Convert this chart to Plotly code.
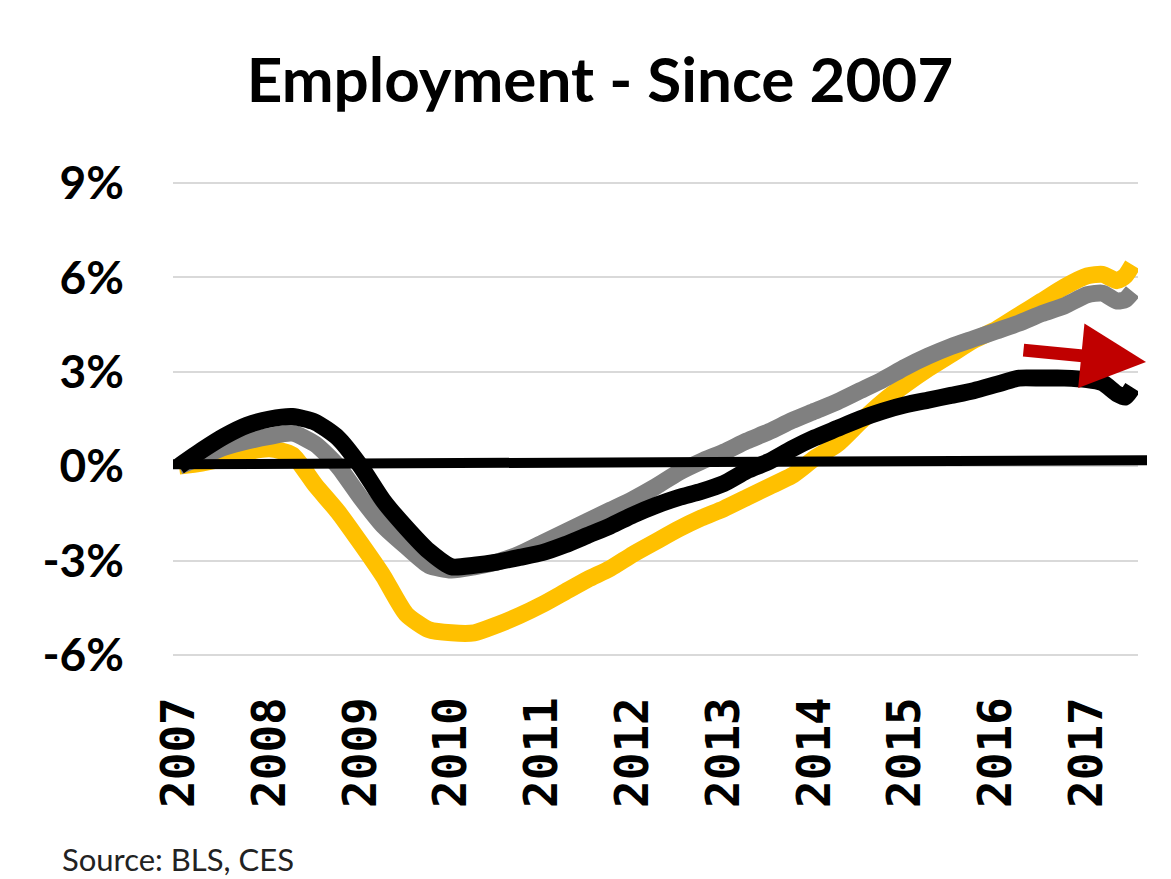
import plotly.graph_objects as go

# ---- data ----
years = [2007.0, 2007.25, 2007.5, 2007.75, 2008.0, 2008.25, 2008.5, 2008.75,
         2009.0, 2009.25, 2009.5, 2009.75, 2010.0, 2010.25, 2010.5, 2010.75,
         2011.0, 2011.25, 2011.5, 2011.75, 2012.0, 2012.25, 2012.5, 2012.75,
         2013.0, 2013.25, 2013.5, 2013.75, 2014.0, 2014.25, 2014.5, 2014.75,
         2015.0, 2015.25, 2015.5, 2015.75, 2016.0, 2016.25, 2016.5, 2016.75,
         2017.0, 2017.17, 2017.33, 2017.42, 2017.5]

yellow = [0.0, 0.1, 0.25, 0.45, 0.55, 0.35, -0.6, -1.45,
          -2.45, -3.5, -4.7, -5.2, -5.3, -5.3, -5.05, -4.75,
          -4.4, -4.0, -3.6, -3.25, -2.8, -2.4, -2.0, -1.65,
          -1.35, -1.0, -0.65, -0.3, 0.25, 0.7, 1.4, 2.05,
          2.6, 3.1, 3.55, 4.0, 4.35, 4.8, 5.25, 5.7,
          6.05, 6.1, 5.9, 6.05, 6.4]

gray = [0.0, 0.3, 0.6, 0.8, 0.95, 1.05, 0.7, 0.0,
        -1.0, -1.9, -2.55, -3.15, -3.3, -3.2, -3.05, -2.8,
        -2.45, -2.1, -1.75, -1.4, -1.05, -0.65, -0.2, 0.15,
        0.45, 0.8, 1.1, 1.45, 1.75, 2.05, 2.4, 2.75,
        3.15, 3.5, 3.8, 4.05, 4.3, 4.55, 4.85, 5.1,
        5.45, 5.5, 5.25, 5.3, 5.55]

black = [0.0, 0.5, 0.95, 1.3, 1.5, 1.58, 1.4, 0.9,
         0.0, -1.1, -1.95, -2.7, -3.2, -3.15, -3.05, -2.9,
         -2.75, -2.5, -2.2, -1.9, -1.55, -1.25, -1.0, -0.8,
         -0.55, -0.15, 0.15, 0.55, 0.9, 1.2, 1.5, 1.75,
         1.95, 2.1, 2.25, 2.4, 2.6, 2.8, 2.8, 2.8,
         2.75, 2.65, 2.3, 2.2, 2.5]

tick_years = [2007, 2008, 2009, 2010, 2011, 2012, 2013, 2014, 2015, 2016, 2017]
tick_year_labels = [str(y) for y in tick_years]
y_ticks = [-6, -3, 0, 3, 6, 9]
y_tick_labels = ["-6%", "-3%", "0%", "3%", "6%", "9%"]
baseline_values = [0.06, 0.19]   # hand-drawn reference line near 0%

title_text = "Employment - Since 2007"
source_text = "Source: BLS, CES"

# ---- layout geometry (page has an 8px body margin) ----
OFF = 8
W, H = 1171 - OFF, 879 - OFF
L, R, T, B = 165, 33, 172, 221
PW, PH = W - L - R, H - T - B


def px_x(p):
    return (p - OFF - L) / PW


def px_y(p):
    return (H - B - (p - OFF)) / PH


fig = go.Figure()
for vals, col in [(yellow, "#FFC000"), (gray, "#808080"), (black, "#000000")]:
    fig.add_trace(go.Scatter(
        x=years, y=vals, mode="lines",
        line=dict(color=col, width=17, shape="spline", smoothing=0.6),
        showlegend=False, hoverinfo="skip"))

shapes = [
    # outer light frame (top/left edge of the original screenshot)
    dict(type="rect", xref="paper", yref="paper", layer="below",
         x0=px_x(7), x1=px_x(1300), y0=px_y(1000), y1=px_y(5),
         fillcolor="white", line=dict(color="#D4D4D4", width=2)),
    # black baseline near zero
    dict(type="line", xref="paper", yref="y",
         x0=0.0, x1=px_x(1147), y0=baseline_values[0], y1=baseline_values[1],
         line=dict(color="black", width=10)),
]

annotations = [
    dict(text=source_text, xref="paper", yref="paper",
         x=px_x(60), y=px_y(859), xanchor="left", yanchor="middle",
         showarrow=False, font=dict(family="Lato", size=31, color="#222222")),
    dict(text="", xref="paper", yref="paper",
         x=px_x(1146), y=px_y(362), ax=-124, ay=-12,
         showarrow=True, arrowhead=2, arrowsize=1.0, arrowwidth=13,
         arrowcolor="#C00000", standoff=0),
]

fig.update_layout(
    width=W, height=H,
    margin=dict(l=L, r=R, t=T, b=B, pad=0),
    paper_bgcolor="#EEEEEE",
    plot_bgcolor="white",
    title=dict(text=title_text, xref="container", yref="container",
               x=(600 - OFF) / W, y=1 - (80 - OFF) / H,
               xanchor="center", yanchor="middle",
               font=dict(family="Lato", size=62, color="black", weight="bold")),
    shapes=shapes,
    annotations=annotations,
    showlegend=False,
)

fig.update_xaxes(
    range=[2006.934, 2017.56],
    tickmode="array", tickvals=tick_years, ticktext=tick_year_labels,
    tickangle=-90, showgrid=False, zeroline=False, showline=False, ticks="",
    ticklabelstandoff=29,
    tickfont=dict(family="DejaVu Sans Mono", size=46, color="black", weight="bold"),
)
fig.update_yaxes(
    range=[-6.1, 9.1],
    tickmode="array", tickvals=y_ticks, ticktext=y_tick_labels,
    showgrid=True, gridcolor="#D9D9D9", gridwidth=2,
    zeroline=False, showline=False, ticks="",
    ticklabelstandoff=48,
    tickfont=dict(family="Lato", size=46, color="black", weight="bold"),
)

fig.write_html("out.html")
